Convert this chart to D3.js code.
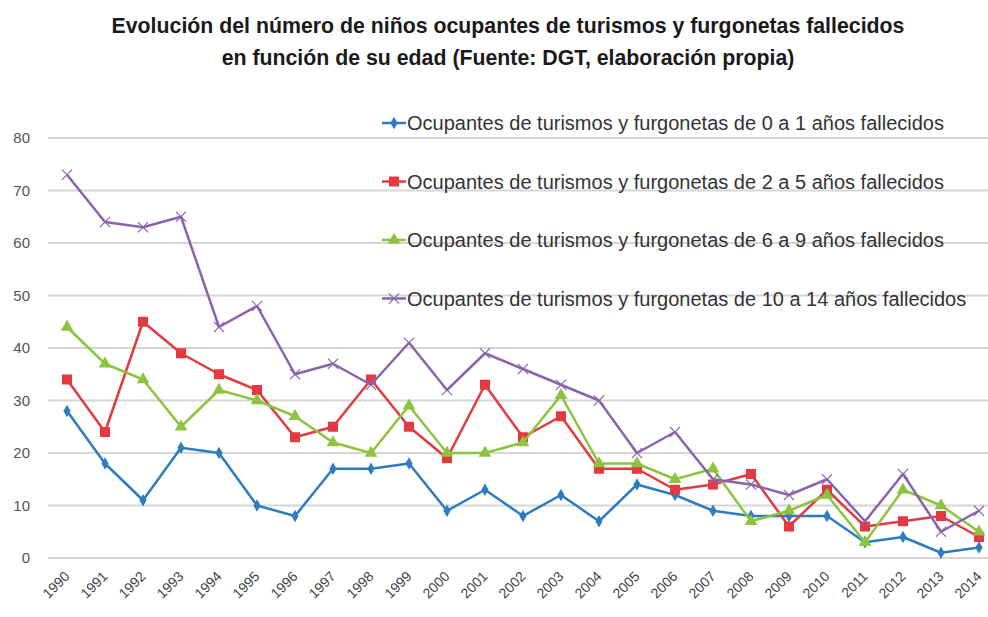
<!DOCTYPE html>
<html>
<head>
<meta charset="utf-8">
<script src="https://cdn.jsdelivr.net/npm/d3@7"></script>
<style>
  body { margin: 0; background: #fff; }
  svg { display: block; font-family: "Liberation Sans", Arial, sans-serif; }
</style>
</head>
<body>
<svg id="chart" width="988" height="617"></svg>
<script>
const years = ["1990","1991","1992","1993","1994","1995","1996","1997","1998","1999","2000","2001","2002","2003","2004","2005","2006","2007","2008","2009","2010","2011","2012","2013","2014"];

const age0to1 = [28,18,11,21,20,10,8,17,17,18,9,13,8,12,7,14,12,9,8,8,8,3,4,1,2];
const age2to5 = [34,24,45,39,35,32,23,25,34,25,19,33,23,27,17,17,13,14,16,6,13,6,7,8,4];
const age6to9 = [44,37,34,25,32,30,27,22,20,29,20,20,22,31,18,18,15,17,7,9,12,3,13,10,5];
const age10to14 = [73,64,63,65,44,48,35,37,33,41,32,39,36,33,30,20,24,15,14,12,15,7,16,5,9];

const seriesNames = [
    "Ocupantes de turismos y furgonetas de 0 a 1 años fallecidos",
    "Ocupantes de turismos y furgonetas de 2 a 5 años fallecidos",
    "Ocupantes de turismos y furgonetas de 6 a 9 años fallecidos",
    "Ocupantes de turismos y furgonetas de 10 a 14 años fallecidos",
];
const yTicks = [0, 10, 20, 30, 40, 50, 60, 70, 80];

const titleLines = [
    "Evolución del número de niños ocupantes de turismos y furgonetas fallecidos",
    "en función de su edad (Fuente: DGT, elaboración propia)",
];

const series = [
    { name: seriesNames[0], values: age0to1, color: "#2c7cc0", marker: "diamond" },
    { name: seriesNames[1], values: age2to5, color: "#e23a40", marker: "square" },
    { name: seriesNames[2], values: age6to9, color: "#8dc43f", marker: "triangle" },
    { name: seriesNames[3], values: age10to14, color: "#8b63ad", marker: "cross" },
];

const svg = d3.select("#chart");
const margin = { top: 138, right: -10, bottom: 59, left: 48 };
const width = 988 - margin.left - margin.right;
const height = 617 - margin.top - margin.bottom;

const x = d3.scalePoint().domain(years).range([0, width]).padding(0.5);
const y = d3.scaleLinear().domain([0, 80]).range([height, 0]);

// Title
svg.append("g")
    .selectAll("text")
    .data(titleLines)
    .join("text")
    .attr("x", 508)
    .attr("y", (d, i) => 33 + i * 32)
    .attr("text-anchor", "middle")
    .attr("font-weight", "bold")
    .attr("font-size", 21.3)
    .attr("fill", "#1a1a1a")
    .text((d) => d);

const g = svg.append("g").attr("transform", `translate(${margin.left},${margin.top})`);

// Gridlines
g.append("g")
    .selectAll("line")
    .data(yTicks)
    .join("line")
    .attr("x1", 0)
    .attr("x2", width)
    .attr("y1", (d) => y(d))
    .attr("y2", (d) => y(d))
    .attr("stroke", "#d6d6d6")
    .attr("stroke-width", 2);

// Y axis labels
const yAxis = g.append("g")
    .call(d3.axisLeft(y).tickValues(yTicks).tickSize(0).tickPadding(18));
yAxis.select(".domain").remove();
yAxis.selectAll("text")
    .attr("font-size", 15)
    .attr("fill", "#555")
    .attr("font-family", "Liberation Sans, Arial, sans-serif");

// X axis labels (rotated)
const xAxis = g.append("g")
    .attr("transform", `translate(0,${height})`)
    .call(d3.axisBottom(x).tickSize(0));
xAxis.select(".domain").remove();
xAxis.selectAll("text")
    .attr("font-size", 14)
    .attr("fill", "#444")
    .attr("font-family", "Liberation Sans, Arial, sans-serif")
    .attr("text-anchor", "end")
    .attr("dx", 0)
    .attr("dy", 0)
    .attr("transform", "translate(1,17) rotate(-45)");

// Markers
const symbolFor = {
    diamond: d3.symbol().type(d3.symbolDiamond).size(45),
    square: d3.symbol().type(d3.symbolSquare).size(100),
    triangle: d3.symbol().type(d3.symbolTriangle).size(70),
    cross: d3.symbol().type(d3.symbolX).size(70),
};

function drawMarker(sel, s) {
    if (s.marker === "cross") {
        sel.attr("d", symbolFor.cross())
            .attr("fill", "none")
            .attr("stroke", s.color)
            .attr("stroke-width", 1.2);
    } else {
        sel.attr("d", symbolFor[s.marker]())
            .attr("fill", s.color);
    }
}

const line = d3.line()
    .x((d, i) => x(years[i]))
    .y((d) => y(d));

series.forEach((s) => {
    const sg = g.append("g");
    sg.append("path")
        .datum(s.values)
        .attr("d", line)
        .attr("fill", "none")
        .attr("stroke", s.color)
        .attr("stroke-width", 2.5)
        .attr("stroke-linejoin", "round");

    sg.selectAll("path.marker")
        .data(s.values)
        .join("path")
        .attr("class", "marker")
        .attr("transform", (d, i) => `translate(${x(years[i])},${y(d)})`)
        .each(function () {
            drawMarker(d3.select(this), s);
        });
});

// Legend
const legend = svg.append("g")
    .selectAll("g")
    .data(series)
    .join("g")
    .attr("transform", (d, i) => `translate(382,${123 + i * 58.5})`);

legend.append("line")
    .attr("x1", 0)
    .attr("x2", 24)
    .attr("stroke", (d) => d.color)
    .attr("stroke-width", 2.5);

legend.append("path")
    .attr("transform", "translate(12,0)")
    .each(function (d) {
        drawMarker(d3.select(this), d);
    });

legend.append("text")
    .attr("x", 25)
    .attr("dy", "0.35em")
    .attr("font-size", 20)
    .attr("fill", "#333")
    .text((d) => d.name);
</script>
</body>
</html>
